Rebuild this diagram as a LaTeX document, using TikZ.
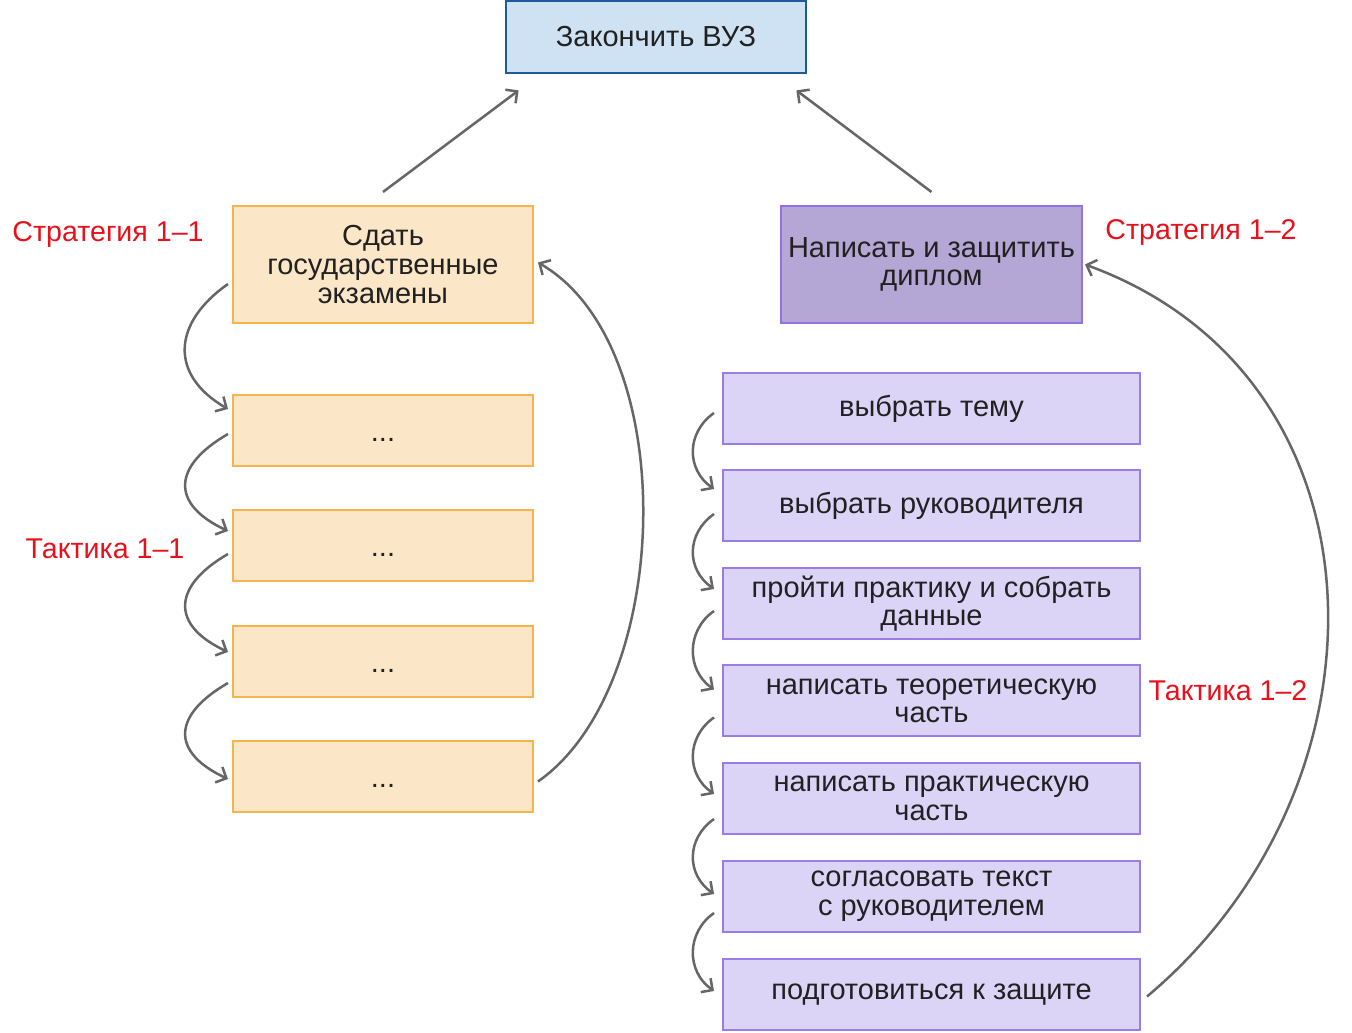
\documentclass[tikz,border=0pt]{standalone}
\usepackage{fontspec}
\setmainfont{Liberation Sans}
\usepackage{xcolor}
\usetikzlibrary{arrows.meta}

\definecolor{goalfill}{HTML}{CFE2F3}
\definecolor{goalline}{HTML}{1C5A9E}
\definecolor{examfill}{HTML}{FCE6C8}
\definecolor{examline}{HTML}{F5B54C}
\definecolor{diplfill}{HTML}{B4A7D6}
\definecolor{diplline}{HTML}{9272E2}
\definecolor{stepfill}{HTML}{DCD4F7}
\definecolor{stepline}{HTML}{9A7CE8}
\definecolor{arrowgray}{HTML}{666666}
\definecolor{labelred}{HTML}{E8101A}

\begin{document}
\begin{tikzpicture}[x=0.5pt,y=0.5pt]
			\tikzstyle{box} = [draw, rectangle, inner sep=0pt, line width=1pt, align=center, text=black!87, font=\fontsize{14.5}{14.3}\selectfont]
			\tikzstyle{goal} = [box, fill=goalfill, draw=goalline, line width=1.4pt, minimum width=150pt, minimum height=36pt]
			\tikzstyle{exam} = [box, fill=examfill, draw=examline, minimum width=150pt, minimum height=35.5pt]
			\tikzstyle{dots} = [exam, text height=11.5pt, text depth=0pt]
			\tikzstyle{dipl} = [box, fill=diplfill, draw=diplline, minimum width=150.5pt, minimum height=58.5pt]
			\tikzstyle{stepbox} = [box, fill=stepfill, draw=stepline, minimum width=208.5pt, minimum height=35.5pt]
			\tikzstyle{tag} = [text=labelred, font=\fontsize{14.3}{15}\selectfont]
			\tikzset{edge/.style = {draw=arrowgray, line width=1.25pt, -{Straight Barb[length=4.2pt,width=8.5pt]}}}
			
			\useasboundingbox (0,0) rectangle (1352,1032);
			
			\node[goal](goal) at (656,995) {Закончить ВУЗ};
			
			% strategy 1-1
			\node[exam, minimum height=58.5pt](exams) at (383,767.5) {Сдать\\государственные\\экзамены};
			\node[dots](ex1) at (383,601.5) {...};
			\node[dots](ex2) at (383,486.5) {...};
			\node[dots](ex3) at (383,370.5) {...};
			\node[dots](ex4) at (383,255.5) {...};
			
			% strategy 1-2
			\node[dipl](diploma) at (931.5,767.5) {Написать и защитить\\диплом};
			\node[stepbox](st1) at (931.5,623.5) {выбрать тему};
			\node[stepbox](st2) at (931.5,526.5) {выбрать руководителя};
			\node[stepbox](st3) at (931.5,428.5) {пройти практику и собрать\\данные};
			\node[stepbox](st4) at (931.5,331) {написать теоретическую\\часть};
			\node[stepbox](st5) at (931.5,233.5) {написать практическую\\часть};
			\node[stepbox](st6) at (931.5,135.5) {согласовать текст\\с руководителем};
			\node[stepbox](st7) at (931.5,37.5) {подготовиться к защите};
			
			\node[tag](strat1) at (108,798) {Стратегия 1–1};
			\node[tag](tact1) at (105,483) {Тактика 1–1};
			\node[tag](strat2) at (1201,800) {Стратегия 1–2};
			\node[tag](tact2) at (1228,341) {Тактика 1–2};
			
			\draw[edge]([yshift=6.5pt]exams.north) to ([xshift=7pt,yshift=-8pt]goal.south west);
			\draw[edge]([yshift=6.5pt]diploma.north) to ([xshift=-5.5pt,yshift=-8pt]goal.south east);
			
			\draw[edge]([xshift=-2pt,yshift=20pt]exams.south west) to[out=215,in=150,distance=34pt] ([xshift=-2pt,yshift=-7.5pt]ex1.north west);
			\draw[edge]([xshift=-2pt,yshift=16.5pt]ex1.south west) to[out=210,in=155,distance=32pt] ([xshift=-2pt,yshift=-11pt]ex2.north west);
			\draw[edge]([xshift=-2pt,yshift=14pt]ex2.south west) to[out=210,in=155,distance=32pt] ([xshift=-2pt,yshift=-13.5pt]ex3.north west);
			\draw[edge]([xshift=-2pt,yshift=7.5pt]ex3.south west) to[out=210,in=155,distance=32pt] ([xshift=-2pt,yshift=-19.5pt]ex4.north west);
			\draw[edge]([xshift=2pt,yshift=-2.5pt]ex4.east) to[out=35,in=-30,distance=83pt] ([xshift=2pt,yshift=1pt]exams.east);
			
			\foreach \a/\b/\s/\e in {st1/st2/16/10, st2/st3/14/11, st3/st4/14.5/12.5, st4/st5/10/16, st5/st6/8/17, st6/st7/10/16.5}
				\draw[edge]([xshift=-4pt,yshift=\s pt]\a.south west) to[out=215,in=145,distance=17pt] ([xshift=-4pt,yshift=-\e pt]\b.north west);
			\draw[edge]([xshift=3pt,yshift=-1pt]st7.east) to[out=40,in=-20,distance=165pt] ([xshift=1pt]diploma.east);
			
			\end{tikzpicture}
\end{document}
